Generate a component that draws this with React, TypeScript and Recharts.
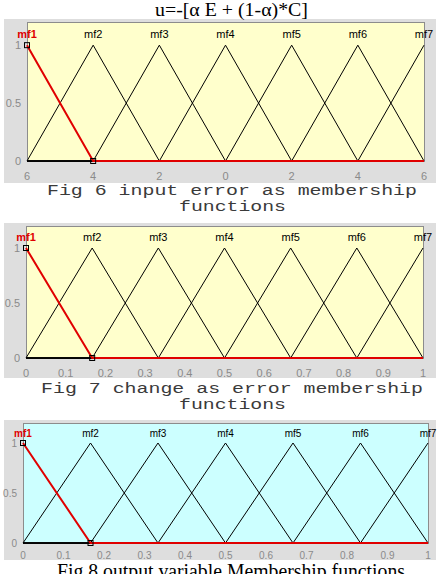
import React from 'react';
import { ComposedChart, Line, XAxis, YAxis } from 'recharts';

// ---- data ----
const mfNames = ['mf1', 'mf2', 'mf3', 'mf4', 'mf5', 'mf6', 'mf7'];
const errorPeaks = [-6, -4, -2, 0, 2, 4, 6];
const errorTicks = [-6, -4, -2, 0, 2, 4, 6];
const changePeaks = [0, 0.1667, 0.3333, 0.5, 0.6667, 0.8333, 1];
const outputPeaks = [0, 0.1667, 0.3333, 0.5, 0.6667, 0.8333, 1];
const unitTicks = [0, 0.1, 0.2, 0.3, 0.4, 0.5, 0.6, 0.7, 0.8, 0.9, 1];
const yTicks = [0, 0.5, 1];
const yDomain = [0, 1.2];
const mfLabelLevel = 1.1;
const titleText = 'u=-[\u03b1 E + (1-\u03b1)*C]';
const caption6 = ['Fig 6 input error as membership', 'functions'];
const caption7 = ['Fig 7 change as error membership', 'functions'];
const caption8 = 'Fig 8 output variable Membership functions';

type Pt = { x: number; y: number };

function buildMf(peaks: number[], i: number): Pt[] {
  const n = peaks.length;
  const lo = peaks[0];
  const hi = peaks[n - 1];
  const pts: Pt[] = [];
  if (i > 0) {
    if (peaks[i - 1] > lo) pts.push({ x: lo, y: 0 });
    pts.push({ x: peaks[i - 1], y: 0 });
  }
  pts.push({ x: peaks[i], y: 1 });
  if (i < n - 1) {
    pts.push({ x: peaks[i + 1], y: 0 });
    if (peaks[i + 1] < hi) pts.push({ x: hi, y: 0 });
  }
  return pts;
}

const SANS = '"Liberation Sans", Arial, sans-serif';
const MONO = '"Liberation Mono", "Courier New", monospace';
const SERIF = '"Liberation Serif", "Times New Roman", serif';

type PanelProps = {
  top: number;
  height: number;
  margin: { top: number; right: number; left: number; bottom: number };
  peaks: number[];
  ticks: number[];
  fmt: (v: number) => string;
  bg: string;
  tickMargin: number;
  labelSize: number;
};

const Y_W = 22;
const X_H = 20;
const W = 438;

function Panel({ top, height, margin, peaks, ticks, fmt, bg, tickMargin, labelSize }: PanelProps) {
  const plotLeft = margin.left + Y_W;
  const plotTop = top + margin.top;
  const plotW = W - plotLeft - margin.right;
  const plotH = height - margin.top - margin.bottom - X_H;
  const domain = [peaks[0], peaks[peaks.length - 1]];
  const labelData = peaks.map((p, i) => ({ x: p, y: mfLabelLevel, name: mfNames[i] }));
  const tickStyle = { fill: '#8a8a8a', fontSize: labelSize, fontFamily: SANS };

  const redDot = (p: any) => {
    const { cx, cy, index } = p;
    if (index > 1) return <g key={`rd${index}`} />;
    return (
      <rect key={`rd${index}`} x={cx - 2.5} y={cy - 2.5} width={5} height={5} fill="none" stroke="#000" strokeWidth={1} />
    );
  };
  const labelDot = (p: any) => {
    const { cx, cy, index, payload } = p;
    const first = index === 0;
    return (
      <text
        key={`lb${index}`}
        x={cx}
        y={cy}
        textAnchor="middle"
        dominantBaseline="central"
        fontFamily={SANS}
        fontSize={labelSize}
        fontWeight={first ? 'bold' : 'normal'}
        fill={first ? '#e00000' : '#000'}
      >
        {payload.name}
      </text>
    );
  };

  return (
    <>
      <div
        style={{
          position: 'absolute',
          left: plotLeft,
          top: plotTop,
          width: plotW + 1,
          height: plotH + 1,
          background: bg,
          border: '1px solid #8c8c8c',
          boxSizing: 'border-box',
        }}
      />
      <div style={{ position: 'absolute', left: 0, top }}>
        <ComposedChart width={W} height={height} margin={margin}>
          <XAxis
            type="number"
            dataKey="x"
            domain={domain}
            ticks={ticks}
            interval={0}
            tickFormatter={fmt}
            tickLine={false}
            axisLine={false}
            tickSize={0}
            tickMargin={tickMargin}
            height={X_H}
            tick={tickStyle}
          />
          <XAxis xAxisId="bi" type="number" domain={domain} ticks={ticks} interval={0} orientation="bottom" mirror tick={false} tickSize={3} axisLine={false} tickLine={{ stroke: '#666' }} />
          <XAxis xAxisId="ti" type="number" domain={domain} ticks={ticks} interval={0} orientation="top" mirror tick={false} tickSize={3} axisLine={false} tickLine={{ stroke: '#666' }} />
          <YAxis
            type="number"
            dataKey="y"
            domain={yDomain}
            ticks={yTicks}
            interval={0}
            tickLine={false}
            axisLine={false}
            tickSize={0}
            tickMargin={6}
            width={Y_W}
            tick={tickStyle}
          />
          <YAxis yAxisId="li" type="number" domain={yDomain} ticks={yTicks} interval={0} orientation="left" mirror tick={false} tickSize={3} axisLine={false} tickLine={{ stroke: '#666' }} />
          <YAxis yAxisId="ri" type="number" domain={yDomain} ticks={yTicks} interval={0} orientation="right" mirror tick={false} tickSize={3} axisLine={false} tickLine={{ stroke: '#666' }} />
          {peaks.map((_, i) =>
            i === 0 ? null : (
              <Line
                key={`mf${i}`}
                data={buildMf(peaks, i)}
                dataKey="y"
                type="linear"
                stroke="#000"
                strokeWidth={1}
                dot={false}
                activeDot={false}
                isAnimationActive={false}
              />
            )
          )}
          <Line
            data={buildMf(peaks, 0)}
            dataKey="y"
            type="linear"
            stroke="#e00000"
            strokeWidth={2}
            dot={redDot}
            activeDot={false}
            isAnimationActive={false}
          />
          <Line
            data={labelData}
            dataKey="y"
            type="linear"
            stroke="none"
            dot={labelDot}
            activeDot={false}
            isAnimationActive={false}
          />
        </ComposedChart>
      </div>
    </>
  );
}

export default function App() {
  const gray = '#dedede';
  return (
    <div style={{ position: 'absolute', left: 0, top: 0, width: 438, height: 574, background: '#fff', overflow: 'hidden' }}>
      <div style={{ position: 'absolute', left: 4, top: 19, width: 432, height: 164, background: gray }} />
      <div style={{ position: 'absolute', left: 4, top: 223, width: 432, height: 155, background: gray }} />
      <div style={{ position: 'absolute', left: 4, top: 420, width: 432, height: 140, background: gray }} />

      <Panel
        top={0}
        height={190}
        margin={{ top: 22, right: 14, left: 5, bottom: 9 }}
        peaks={errorPeaks}
        ticks={errorTicks}
        fmt={(v) => String(Math.abs(v))}
        bg="#ffffcc"
        tickMargin={11}
        labelSize={11}
      />
      <Panel
        top={200}
        height={190}
        margin={{ top: 26, right: 15, left: 4, bottom: 12 }}
        peaks={changePeaks}
        ticks={unitTicks}
        fmt={(v) => String(v)}
        bg="#ffffcc"
        tickMargin={11}
        labelSize={11}
      />
      <Panel
        top={400}
        height={170}
        margin={{ top: 23, right: 10, left: 1, bottom: 7 }}
        peaks={outputPeaks}
        ticks={unitTicks}
        fmt={(v) => String(v)}
        bg="#ccffff"
        tickMargin={9}
        labelSize={10}
      />

      <svg width={438} height={574} style={{ position: 'absolute', left: 0, top: 0, pointerEvents: 'none' }}>
        <text x={155} y={16} fontFamily={SERIF} fontSize={19} fill="#000" textLength={153} lengthAdjust="spacingAndGlyphs">
          {titleText}
        </text>
        <text x={47} y={195} fontFamily={MONO} fontSize={14} fill="#3a3a3a" textLength={370} lengthAdjust="spacingAndGlyphs">
          {caption6[0]}
        </text>
        <text x={179} y={211} fontFamily={MONO} fontSize={14} fill="#3a3a3a" textLength={107} lengthAdjust="spacingAndGlyphs">
          {caption6[1]}
        </text>
        <text x={41} y={393} fontFamily={MONO} fontSize={14} fill="#3a3a3a" textLength={382} lengthAdjust="spacingAndGlyphs">
          {caption7[0]}
        </text>
        <text x={179} y={409} fontFamily={MONO} fontSize={14} fill="#3a3a3a" textLength={107} lengthAdjust="spacingAndGlyphs">
          {caption7[1]}
        </text>
        <text x={57} y={578} fontFamily={SERIF} fontSize={20} fill="#000" textLength={348} lengthAdjust="spacingAndGlyphs">
          {caption8}
        </text>
      </svg>
    </div>
  );
}
